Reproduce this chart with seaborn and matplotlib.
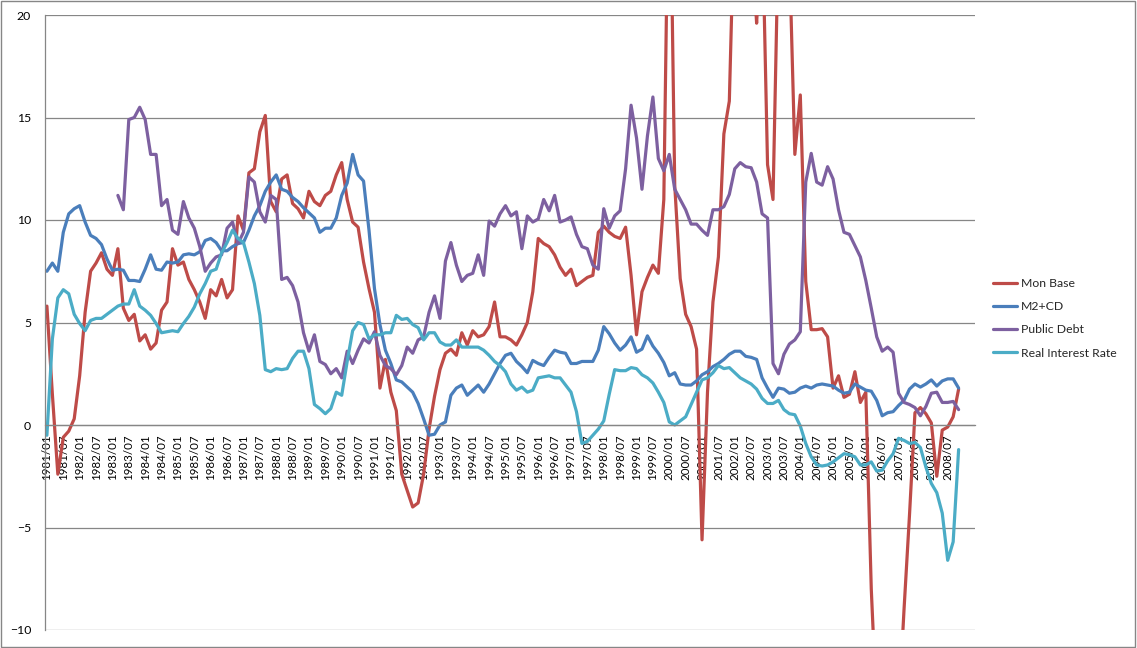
import numpy as np
import pandas as pd
import matplotlib
matplotlib.use("Agg")
import matplotlib.pyplot as plt
from matplotlib.lines import Line2D
from matplotlib.patches import Rectangle
import seaborn as sns

# readings taken every second month, 1981/01 .. 2008/11 (one row = two years)
start_year = 1981
step_months = 2

series_names = ["Mon Base", "M2+CD", "Public Debt", "Real Interest Rate"]
series_colors = ["#BE4B48", "#4A7EBB", "#7D60A0", "#4BACC6"]

mon_base = [
    5.8, 1.5, -2.4, -0.6, -0.3, 0.3, 2.4, 5.5, 7.5, 7.9, 8.4, 7.6,
    7.3, 8.6, 5.7, 5.1, 5.4, 4.1, 4.4, 3.7, 4.0, 5.6, 6.0, 8.6,
    7.8, 7.95, 7.1, 6.6, 6.0, 5.2, 6.6, 6.3, 7.1, 6.2, 6.6, 10.2,
    9.5, 12.3, 12.5, 14.3, 15.1, 10.9, 10.4, 12.0, 12.2, 10.8, 10.55, 10.1,
    11.4, 10.9, 10.7, 11.2, 11.4, 12.2, 12.8, 11.0, 9.9, 9.65, 7.95, 6.65,
    5.5, 1.8, 3.2, 1.6, 0.7, -2.4, -3.2, -4.0, -3.8, -2.4, -0.2, 1.4,
    2.7, 3.5, 3.7, 3.4, 4.5, 3.9, 4.6, 4.3, 4.4, 4.8, 6.0, 4.3,
    4.3, 4.15, 3.9, 4.4, 5.0, 6.5, 9.1, 8.85, 8.7, 8.3, 7.7, 7.3,
    7.6, 6.8, 7.0, 7.2, 7.3, 9.4, 9.7, 9.4, 9.2, 9.1, 9.65, 7.3,
    4.4, 6.5, 7.2, 7.8, 7.4, 11.0, 30.0, 11.7, 7.15, 5.4, 4.8, 3.7,
    -5.6, 1.6, 6.0, 8.2, 14.2, 15.8, 26.0, 28.0, 27.0, 24.0, 19.6, 25.0,
    12.7, 11.0, 24.0, 27.0, 23.0, 13.2, 16.1, 7.0, 4.65, 4.65, 4.7, 4.3,
    1.8, 2.4, 1.35, 1.5, 2.6, 1.1, 1.6, -8.0, -14.0, -16.0, -16.0, -15.0,
    -14.0, -9.0, -4.4, 0.6, 0.85, 0.55, 0.1, -2.5, -0.25, -0.1, 0.4, 1.75,
]

m2_cd = [
    7.5, 7.9, 7.5, 9.4, 10.3, 10.55, 10.7, 9.9, 9.25, 9.1, 8.8, 8.1,
    7.55, 7.6, 7.55, 7.05, 7.05, 7.0, 7.6, 8.3, 7.6, 7.55, 7.95, 7.9,
    7.95, 8.3, 8.35, 8.3, 8.45, 9.0, 9.1, 8.9, 8.5, 8.5, 8.7, 8.85,
    8.9, 9.5, 10.2, 10.7, 11.4, 11.85, 12.2, 11.5, 11.4, 11.1, 10.9, 10.6,
    10.35, 10.1, 9.4, 9.6, 9.6, 10.1, 11.2, 11.8, 13.2, 12.2, 11.9, 9.5,
    6.65, 4.9, 3.65, 3.0, 2.2, 2.1, 1.85, 1.6, 1.05, 0.3, -0.5, -0.45,
    0.0, 0.15, 1.45, 1.8, 1.95, 1.45, 1.7, 1.95, 1.6, 2.0, 2.5, 3.0,
    3.4, 3.5, 3.1, 2.85, 2.55, 3.15, 3.0, 2.9, 3.3, 3.65, 3.55, 3.5,
    3.0, 3.0, 3.1, 3.1, 3.1, 3.65, 4.8, 4.45, 4.0, 3.65, 3.9, 4.3,
    3.55, 3.7, 4.35, 3.85, 3.5, 3.05, 2.4, 2.55, 2.0, 1.95, 1.95, 2.15,
    2.45, 2.6, 2.85, 3.0, 3.2, 3.45, 3.6, 3.6, 3.35, 3.3, 3.2, 2.3,
    1.8, 1.35, 1.8, 1.75, 1.55, 1.6, 1.8, 1.9, 1.8, 1.95, 2.0, 1.95,
    1.9, 1.7, 1.55, 1.6, 2.0, 1.85, 1.7, 1.65, 1.2, 0.45, 0.6, 0.65,
    0.95, 1.2, 1.75, 2.0, 1.85, 2.0, 2.2, 1.9, 2.15, 2.25, 2.25, 1.8,
]

public_debt = [
    np.nan, np.nan, np.nan, np.nan, np.nan, np.nan, np.nan, np.nan, np.nan, np.nan, np.nan, np.nan,
    np.nan, 11.2, 10.5, 14.9, 15.0, 15.5, 14.9, 13.2, 13.2, 10.7, 11.0, 9.5,
    9.3, 10.9, 10.1, 9.6, 8.7, 7.5, 7.9, 8.2, 8.3, 9.6, 9.9, 8.85,
    9.4, 12.1, 11.85, 10.4, 9.9, 11.2, 11.0, 7.1, 7.2, 6.8, 6.0, 4.5,
    3.6, 4.4, 3.1, 2.95, 2.5, 2.75, 2.3, 3.6, 3.0, 3.65, 4.2, 4.0,
    4.55, 3.4, 2.9, 2.75, 2.45, 2.9, 3.8, 3.5, 4.15, 4.3, 5.5, 6.3,
    5.2, 8.0, 8.9, 7.8, 7.0, 7.3, 7.4, 8.3, 7.3, 9.95, 9.7, 10.3,
    10.7, 10.2, 10.4, 8.6, 10.2, 9.9, 10.05, 11.0, 10.45, 11.2, 9.9, 10.0,
    10.15, 9.3, 8.7, 8.6, 7.8, 7.6, 10.55, 9.6, 10.2, 10.45, 12.5, 15.6,
    14.0, 11.5, 14.1, 16.0, 13.0, 12.4, 13.2, 11.5, 11.0, 10.5, 9.8, 9.8,
    9.5, 9.25, 10.5, 10.5, 10.65, 11.25, 12.5, 12.8, 12.6, 12.55, 11.85, 10.3,
    10.1, 3.0, 2.5, 3.45, 3.95, 4.15, 4.55, 11.85, 13.25, 11.85, 11.7, 12.6,
    12.0, 10.5, 9.4, 9.3, 8.75, 8.2, 7.05, 5.7, 4.3, 3.6, 3.8, 3.55,
    1.55, 1.1, 1.0, 0.85, 0.45, 0.9, 1.55, 1.6, 1.1, 1.1, 1.15, 0.75,
]

real_rate = [
    -0.5, 4.2, 6.2, 6.6, 6.4, 5.4, 4.95, 4.6, 5.1, 5.2, 5.2, 5.4,
    5.6, 5.8, 5.9, 5.9, 6.6, 5.8, 5.6, 5.35, 4.95, 4.5, 4.55, 4.6,
    4.55, 4.95, 5.3, 5.75, 6.4, 6.9, 7.5, 7.6, 8.4, 8.9, 9.5, 9.1,
    8.9, 7.95, 6.9, 5.35, 2.7, 2.6, 2.75, 2.7, 2.75, 3.25, 3.6, 3.6,
    2.75, 1.0, 0.8, 0.55, 0.8, 1.6, 1.45, 3.1, 4.6, 5.0, 4.9, 4.2,
    4.4, 4.4, 4.5, 4.5, 5.35, 5.15, 5.2, 4.9, 4.75, 4.15, 4.5, 4.5,
    4.05, 3.9, 3.9, 4.15, 3.8, 3.8, 3.8, 3.8, 3.65, 3.4, 3.1, 2.9,
    2.6, 2.0, 1.7, 1.85, 1.6, 1.7, 2.3, 2.35, 2.4, 2.3, 2.3, 1.95,
    1.6, 0.65, -0.9, -0.8, -0.5, -0.2, 0.2, 1.5, 2.7, 2.65, 2.65, 2.8,
    2.75, 2.45, 2.3, 2.05, 1.6, 1.1, 0.15, 0.0, 0.2, 0.4, 1.0, 1.6,
    2.2, 2.3, 2.55, 2.9, 2.75, 2.8, 2.55, 2.3, 2.15, 2.0, 1.75, 1.3,
    1.05, 1.05, 1.2, 0.75, 0.55, 0.5, -0.05, -0.9, -1.55, -1.95, -2.0, -1.95,
    -1.8, -1.6, -1.4, -1.45, -1.55, -1.95, -1.95, -1.8, -2.25, -2.2, -1.75, -1.4,
    -0.65, -0.75, -0.9, -0.85, -1.1, -2.05, -2.85, -3.3, -4.3, -6.6, -5.7, -1.2,
]

# category labels every six months, shown 1981/01 .. 2008/07
tick_months = list(range(0, 331, 6))
tick_labels = [f"{start_year + m // 12}/{m % 12 + 1:02d}" for m in tick_months]

months = np.arange(len(mon_base)) * step_months
frames = []
for name, vals in zip(series_names, [mon_base, m2_cd, public_debt, real_rate]):
    frames.append(pd.DataFrame({"month": months, "value": vals, "series": name}))
df = pd.concat(frames, ignore_index=True).dropna()

sns.set_theme(style="white")
plt.rcParams["font.family"] = ["Lato", "DejaVu Sans"]

W, H = 1137, 648
fig = plt.figure(figsize=(W / 100, H / 100), dpi=100)
ax = fig.add_axes([45 / W, 1 - 630 / H, 930 / W, 615 / H])

grey = "#868686"
sns.lineplot(data=df, x="month", y="value", hue="series", hue_order=series_names,
             palette=series_colors, estimator=None, linewidth=2.3, legend=False, ax=ax)

# axis crosses at zero: position the spine first, it resets the tick objects
for side in ["top", "right"]:
    ax.spines[side].set_visible(False)
ax.spines["bottom"].set_position(("data", 0))
for side in ["bottom", "left"]:
    ax.spines[side].set_color(grey)
    ax.spines[side].set_linewidth(0.9)

ax.set_ylim(-10, 20)
ax.set_xlim(-0.7, 340)
ax.set_yticks(range(-10, 21, 5))
ax.set_xticks(tick_months)
ax.set_xticklabels(tick_labels)
ax.set_xticks(np.arange(0, 340), minor=True)
ax.set_xlabel("")
ax.set_ylabel("")

ax.yaxis.grid(True, color=grey, linewidth=0.9)
ax.set_axisbelow(True)

ax.tick_params(axis="x", which="both", direction="out", length=3, width=0.8,
               color=grey, pad=4, labelsize=8.3, labelcolor="black",
               labelrotation=90)
for lab in ax.get_xticklabels():
    lab.set_va("top")
    lab.set_ha("center")
ax.tick_params(axis="y", direction="out", length=3, width=0.8, color=grey,
               pad=7, labelsize=8.8, labelcolor="black")

handles = [Line2D([0], [0], color=c, lw=2.3) for c in series_colors]
fig.legend(handles, series_names, loc="upper left",
           bbox_to_anchor=(993 / W, 1 - 278 / H), frameon=False,
           fontsize=8.8, handlelength=2.0, handletextpad=0.3,
           labelspacing=1.0, borderpad=0, borderaxespad=0)

fig.patches.append(Rectangle((0.0005, 0.001), 0.998, 0.997, transform=fig.transFigure,
                             fill=False, edgecolor=grey, linewidth=1))

fig.savefig("out.png", dpi=100)
